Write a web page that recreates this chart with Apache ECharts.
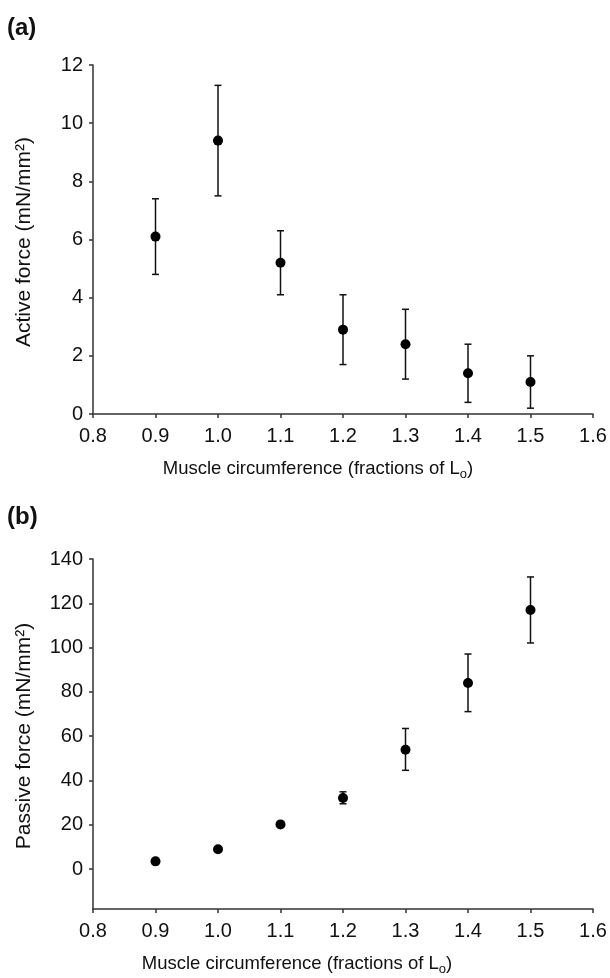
<!DOCTYPE html>
<html>
<head>
<meta charset="utf-8">
<script src="https://cdn.jsdelivr.net/npm/echarts@6/dist/echarts.min.js"></script>
<style>html,body{margin:0;padding:0;background:#fff}#c{width:610px;height:978px}</style>
</head>
<body>
<div id="c"></div>
<script>
// ---- data ----
const circumference = [0.9, 1.0, 1.1, 1.2, 1.3, 1.4, 1.5];
const activeMean = [6.1, 9.4, 5.2, 2.9, 2.4, 1.4, 1.1];
const activeLow  = [4.8, 7.5, 4.1, 1.7, 1.2, 0.4, 0.2];
const activeHigh = [7.4, 11.3, 6.3, 4.1, 3.6, 2.4, 2.0];
const passiveMean = [3.5, 9.0, 20.2, 32.1, 53.9, 84.0, 117.0];
const passiveLow  = [2.7, 8.0, 19.0, 29.5, 44.6, 71.1, 102.1];
const passiveHigh = [4.3, 10.0, 21.4, 34.9, 63.5, 97.1, 131.9];
const activeTicks = [0, 2, 4, 6, 8, 10, 12];
const passiveTicks = [0, 20, 40, 60, 80, 100, 120, 140];

const FONT = '"Liberation Sans", Arial, sans-serif';
const INK = '#111';
const AXIS = '#333';

function pts(mean) { return circumference.map((x, i) => [x, mean[i]]); }
function errs(lo, hi) { return circumference.map((x, i) => [x, lo[i], hi[i]]); }

function errRender(params, api) {
  const x = api.value(0);
  const p1 = api.coord([x, api.value(1)]);
  const p2 = api.coord([x, api.value(2)]);
  const w = 3.5;
  const st = { stroke: '#111', lineWidth: 1.5 };
  return {
    type: 'group',
    children: [
      { type: 'line', shape: { x1: p1[0], y1: p1[1], x2: p2[0], y2: p2[1] }, style: st },
      { type: 'line', shape: { x1: p1[0] - w, y1: p1[1], x2: p1[0] + w, y2: p1[1] }, style: st },
      { type: 'line', shape: { x1: p2[0] - w, y1: p2[1], x2: p2[0] + w, y2: p2[1] }, style: st }
    ]
  };
}

function xAxisDef(gi) {
  return {
    gridIndex: gi, type: 'value', min: 0.8, max: 1.6, interval: 0.1,
    axisLine: { show: true, onZero: false, lineStyle: { color: AXIS, width: 1.5 } },
    axisTick: { show: true, length: 4, lineStyle: { color: AXIS, width: 1.5 } },
    axisLabel: { color: INK, fontSize: 20, fontFamily: FONT, margin: 12,
      formatter: v => v.toFixed(1) },
    splitLine: { show: false }
  };
}

const subRich = { sub: { fontSize: 13, fontFamily: FONT, fill: INK, padding: [10, 0, 0, 0] } };

const chart = echarts.init(document.getElementById('c'), null, { renderer: 'canvas' });
chart.setOption({
  animation: false,
  backgroundColor: '#fff',
  grid: [
    { left: 93, right: 17, top: 65, height: 349 },
    { left: 93, right: 17, top: 559, height: 350 }
  ],
  xAxis: [xAxisDef(0), xAxisDef(1)],
  yAxis: [
    {
      gridIndex: 0, type: 'value', min: 0, max: 12, interval: 2,
      axisLine: { show: true, lineStyle: { color: AXIS, width: 1.5 } },
      axisTick: { show: true, length: 4, lineStyle: { color: AXIS, width: 1.5 } },
      axisLabel: { color: INK, fontSize: 20, fontFamily: FONT, margin: 10 },
      splitLine: { show: false }
    },
    {
      gridIndex: 1, type: 'value', min: -18, max: 140,
      axisLine: { show: true, onZero: false, lineStyle: { color: AXIS, width: 1.5 } },
      axisTick: { show: true, length: 4, customValues: passiveTicks, lineStyle: { color: AXIS, width: 1.5 } },
      axisLabel: { color: INK, fontSize: 20, fontFamily: FONT, margin: 10, customValues: passiveTicks },
      splitLine: { show: false }
    }
  ],
  series: [
    { type: 'custom', xAxisIndex: 0, yAxisIndex: 0, renderItem: errRender, data: errs(activeLow, activeHigh), z: 2 },
    { type: 'scatter', xAxisIndex: 0, yAxisIndex: 0, data: pts(activeMean), symbol: 'circle', symbolSize: 10,
      itemStyle: { color: '#000', opacity: 1 }, z: 3 },
    { type: 'custom', xAxisIndex: 1, yAxisIndex: 1, renderItem: errRender, data: errs(passiveLow, passiveHigh), z: 2 },
    { type: 'scatter', xAxisIndex: 1, yAxisIndex: 1, data: pts(passiveMean), symbol: 'circle', symbolSize: 10,
      itemStyle: { color: '#000', opacity: 1 }, z: 3 }
  ],
  graphic: [
    { type: 'text', x: 7, y: 28, style: { text: '(a)', font: 'bold 24px ' + FONT, fill: INK, verticalAlign: 'middle' } },
    { type: 'text', x: 7, y: 517, style: { text: '(b)', font: 'bold 24px ' + FONT, fill: INK, verticalAlign: 'middle' } },
    { type: 'text', x: 24, y: 242, rotation: Math.PI / 2,
      style: { text: 'Active force (mN/mm²)', font: '21px ' + FONT, fill: INK, align: 'center', verticalAlign: 'middle' } },
    { type: 'text', x: 24, y: 736, rotation: Math.PI / 2,
      style: { text: 'Passive force (mN/mm²)', font: '21px ' + FONT, fill: INK, align: 'center', verticalAlign: 'middle' } },
    { type: 'text', x: 318, y: 469,
      style: { text: 'Muscle circumference (fractions of L{sub|o})', font: '18.5px ' + FONT, fill: INK,
        align: 'center', verticalAlign: 'middle', rich: subRich } },
    { type: 'text', x: 297, y: 964,
      style: { text: 'Muscle circumference (fractions of L{sub|o})', font: '18.5px ' + FONT, fill: INK,
        align: 'center', verticalAlign: 'middle', rich: subRich } }
  ]
});
</script>
</body>
</html>
